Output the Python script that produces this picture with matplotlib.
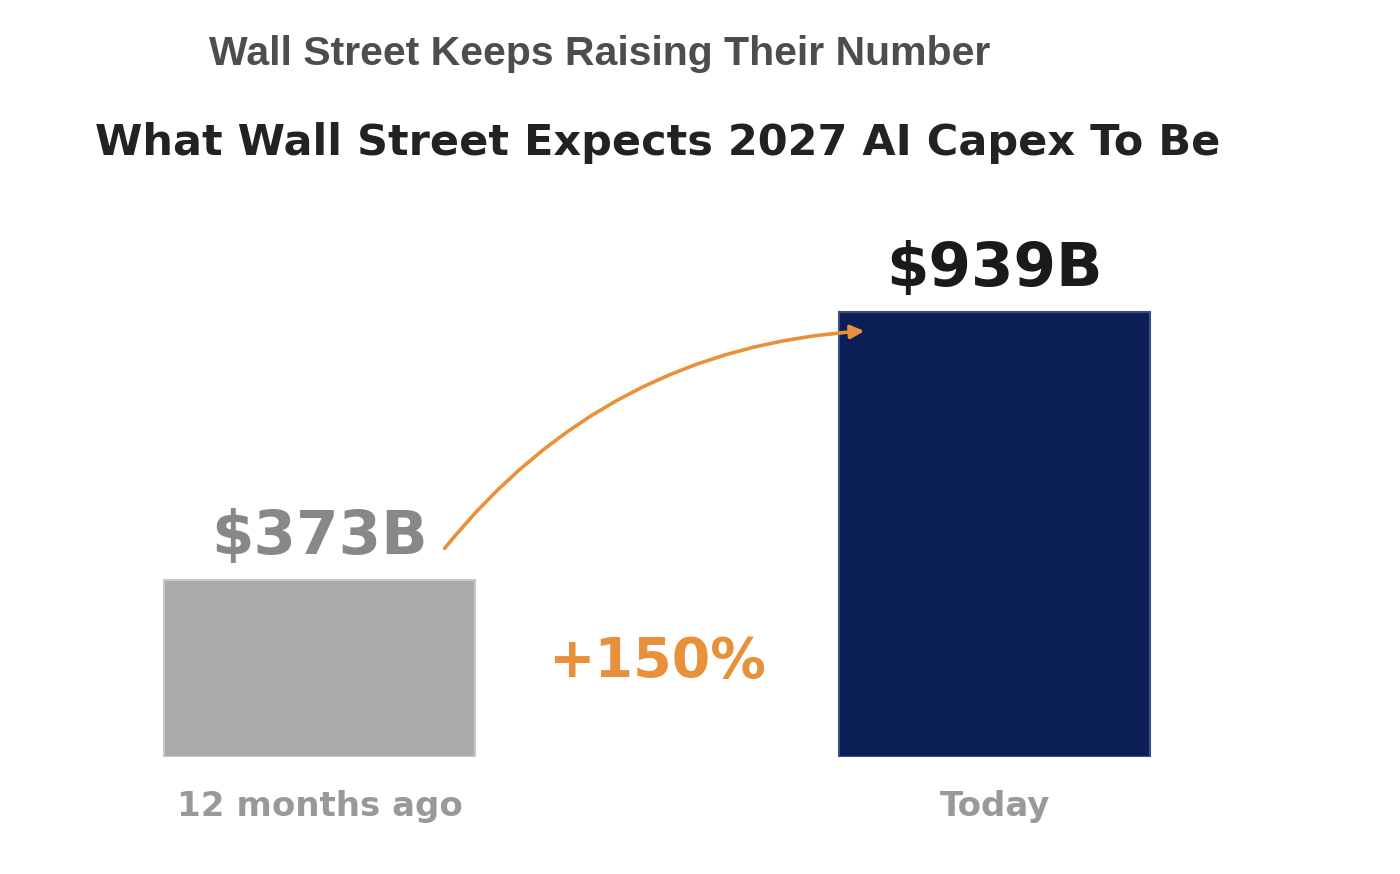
import matplotlib
matplotlib.use("Agg")
import matplotlib.pyplot as plt

# data
categories = ["12 months ago", "Today"]
capex = [373, 939]
value_labels = ["$373B", "$939B"]
change_label = "+150%"

bar_colors = ["#aaaaaa", "#0b1f56"]
label_colors = ["#888888", "#1a1a1a"]
orange = "#e8913a"

fig = plt.figure(figsize=(14, 8.74), dpi=100)
ax = fig.add_axes([0.05, 0.1339, 0.90, 0.637])

x = list(range(len(categories)))
ax.bar(x, capex, width=0.46, color=bar_colors, edgecolor=["#c8c8c8", "#3a4f85"], linewidth=1.5)
ax.set_xlim(-0.370, 1.497)
ax.set_ylim(0, 1175)

for xi, v, lab, c in zip(x, capex, value_labels, label_colors):
    ax.text(xi, v + 28, lab, ha="center", va="bottom", fontsize=44,
            fontweight="bold", color=c, family="DejaVu Sans")

# curved arrow from the old value to the new bar
ax.annotate("", xy=(0.807, 899), xytext=(0.185, 440),
            arrowprops=dict(arrowstyle="-|>,head_length=0.8,head_width=0.4",
                            color=orange, lw=2.6, shrinkA=0, shrinkB=0,
                            connectionstyle="arc3,rad=-0.22"))
ax.text(0.5, 200, change_label, ha="center", va="center", fontsize=40,
        fontweight="bold", color=orange)

ax.set_xticks(x)
ax.set_xticklabels(categories, fontsize=24.5, fontweight="bold", color="#999999")
ax.tick_params(axis="x", length=0, pad=24)
ax.set_yticks([])
for s in ax.spines.values():
    s.set_visible(False)

fig.text(0.428, 0.938, "Wall Street Keeps Raising Their Number", ha="center",
         va="center", fontsize=29.5, fontweight="bold", color="#4d4d4d",
         family="Liberation Sans")
fig.text(0.47, 0.836, "What Wall Street Expects 2027 AI Capex To Be", ha="center",
         va="center", fontsize=31, fontweight="bold", color="#222222")

fig.savefig("out.png", dpi=100, facecolor="white")
